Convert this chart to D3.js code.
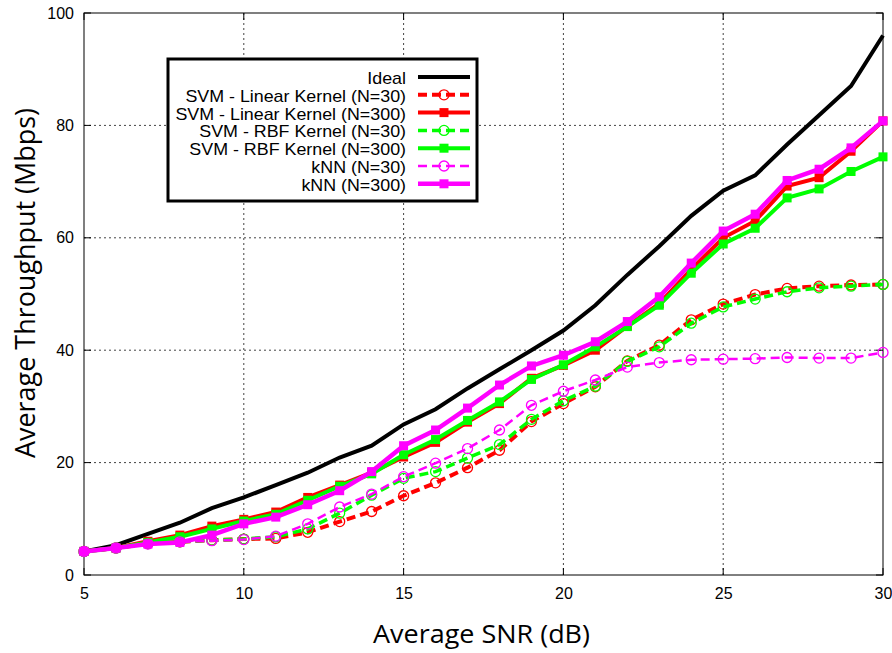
<!DOCTYPE html>
<html><head><meta charset="utf-8">
<script src="https://cdn.jsdelivr.net/npm/d3@7"></script>
<style>body{margin:0;background:#fff}</style>
</head><body><svg id="c" width="892" height="653"></svg>
<script>
const snr = [5,6,7,8,9,10,11,12,13,14,15,16,17,18,19,20,21,22,23,24,25,26,27,28,29,30];
const ideal     = [4.2,5.3,7.3,9.3,11.9,13.8,16.0,18.2,20.9,23.0,26.8,29.5,33.2,36.6,40.0,43.5,48.0,53.4,58.5,63.9,68.4,71.1,76.6,81.8,87.0,96.0];
const linear30  = [4.2,4.8,5.6,5.9,6.2,6.4,6.5,7.6,9.5,11.3,14.1,16.4,19.1,22.2,27.3,30.5,33.5,38.1,40.9,45.4,48.2,49.9,51.0,51.4,51.6,51.7];
const linear300 = [4.2,4.8,6.0,7.1,8.7,9.9,11.2,13.8,16.0,18.2,21.0,23.6,27.2,30.5,35.0,37.3,40.0,44.3,48.3,54.4,60.0,63.0,69.2,70.7,75.4,80.8];
const rbf30     = [4.2,4.8,5.6,5.9,6.2,6.4,6.8,8.2,11.0,14.2,17.2,18.4,20.8,23.2,27.7,31.0,33.6,38.0,40.6,44.8,47.7,49.1,50.4,51.1,51.4,51.7];
const rbf300    = [4.2,4.8,5.8,6.8,8.2,9.6,10.8,13.3,15.8,18.0,21.4,24.1,27.5,30.8,34.8,37.4,40.6,44.2,48.0,53.7,58.9,61.7,67.1,68.7,71.8,74.4];
const knn30     = [4.2,4.8,5.5,5.9,6.1,6.3,6.9,9.1,12.1,14.4,17.5,19.9,22.5,25.8,30.2,32.7,34.7,37.0,37.8,38.3,38.4,38.5,38.7,38.6,38.6,39.6];
const knn300    = [4.2,4.8,5.5,5.8,7.1,9.1,10.3,12.5,15.0,18.4,23.0,25.8,29.7,33.8,37.2,39.1,41.5,45.1,49.5,55.5,61.2,64.2,70.2,72.2,76.0,80.8];
const xTicks = [5,10,15,20,25,30];
const yTicks = [0,20,40,60,80,100];

const series = [
  {name:"Ideal", values:ideal, color:"#000", width:4, dash:null, marker:null},
  {name:"SVM - Linear Kernel (N=30)", values:linear30, color:"#ff0000", width:4, dash:"9,5", marker:"circle"},
  {name:"SVM - Linear Kernel (N=300)", values:linear300, color:"#ff0000", width:4, dash:null, marker:"square"},
  {name:"SVM - RBF Kernel (N=30)", values:rbf30, color:"#00ff00", width:3.5, dash:"9,5", marker:"circle"},
  {name:"SVM - RBF Kernel (N=300)", values:rbf300, color:"#00ff00", width:4, dash:null, marker:"square"},
  {name:"kNN (N=30)", values:knn30, color:"#ff00ff", width:2.5, dash:"9,5", marker:"circle"},
  {name:"kNN (N=300)", values:knn300, color:"#ff00ff", width:4.5, dash:null, marker:"square"}
];

const svg = d3.select("#c");
const L=84, R=883, T=13, B=575;
const x = d3.scaleLinear().domain([5,30]).range([L,R]);
const y = d3.scaleLinear().domain([0,100]).range([B,T]);
const tickFont = "'Liberation Sans', Arial, sans-serif";

// grid
const g = svg.append("g");
g.selectAll(".gx").data(xTicks.slice(1,-1)).enter().append("line")
  .attr("x1",d=>x(d)).attr("x2",d=>x(d)).attr("y1",T).attr("y2",B)
  .attr("stroke","#444").attr("stroke-width",1).attr("stroke-dasharray","2,3");
g.selectAll(".gy").data(yTicks.slice(1,-1)).enter().append("line")
  .attr("y1",d=>y(d)).attr("y2",d=>y(d)).attr("x1",L).attr("x2",R)
  .attr("stroke","#444").attr("stroke-width",1).attr("stroke-dasharray","2,3");

// axes via d3
const xAxis = d3.axisBottom(x).tickValues(xTicks).tickSize(0).tickPadding(13);
const yAxis = d3.axisLeft(y).tickValues(yTicks).tickSize(0).tickPadding(10);
const ax = svg.append("g").attr("transform",`translate(0,${B})`).call(xAxis);
const ay = svg.append("g").attr("transform",`translate(${L},0)`).call(yAxis);
[ax,ay].forEach(a=>{a.select(".domain").remove();
  a.selectAll("text").attr("font-family",tickFont).attr("font-size",16).attr("fill","#000");});

// inward ticks
xTicks.forEach(t=>{
  svg.append("line").attr("x1",x(t)).attr("x2",x(t)).attr("y1",B).attr("y2",B-7).attr("stroke","#000");
  svg.append("line").attr("x1",x(t)).attr("x2",x(t)).attr("y1",T).attr("y2",T+7).attr("stroke","#000");
});
yTicks.forEach(t=>{
  svg.append("line").attr("y1",y(t)).attr("y2",y(t)).attr("x1",L).attr("x2",L+7).attr("stroke","#000");
  svg.append("line").attr("y1",y(t)).attr("y2",y(t)).attr("x1",R).attr("x2",R-7).attr("stroke","#000");
});

// frame
svg.append("rect").attr("x",L).attr("y",T).attr("width",R-L).attr("height",B-T)
  .attr("fill","none").attr("stroke","#000").attr("stroke-width",1);

// series
const line = d3.line().x((d,i)=>x(snr[i])).y(d=>y(d));
series.forEach(s=>{
  const gs = svg.append("g");
  gs.append("path").datum(s.values).attr("d",line).attr("fill","none")
    .attr("stroke",s.color).attr("stroke-width",s.width)
    .attr("stroke-dasharray",s.dash).attr("stroke-linejoin","miter");
  if(s.marker==="circle"){
    gs.selectAll("circle").data(s.values).enter().append("circle")
      .attr("cx",(d,i)=>x(snr[i])).attr("cy",d=>y(d)).attr("r",5)
      .attr("fill","none").attr("stroke",s.color).attr("stroke-width",1.3);
  } else if(s.marker==="square"){
    gs.selectAll("rect").data(s.values).enter().append("rect")
      .attr("x",(d,i)=>x(snr[i])-4.5).attr("y",d=>y(d)-4.5).attr("width",9).attr("height",9)
      .attr("fill",s.color);
  }
});

// legend
const lg = svg.append("g");
lg.append("rect").attr("x",168).attr("y",59).attr("width",309).attr("height",142)
  .attr("fill","#fff").attr("stroke","#000").attr("stroke-width",3);
series.forEach((s,i)=>{
  const yy = 77 + i*17.8;
  lg.append("text").attr("transform",`translate(406,${yy+7}) scale(1.16,1.05)`).attr("text-anchor","end")
    .attr("font-family",tickFont).attr("font-size",15.4).attr("fill","#000").text(s.name);
  lg.append("line").attr("x1",418).attr("x2",470).attr("y1",yy).attr("y2",yy)
    .attr("stroke",s.color).attr("stroke-width",s.width).attr("stroke-dasharray",s.dash);
  if(s.marker==="circle") lg.append("circle").attr("cx",444).attr("cy",yy).attr("r",5)
    .attr("fill","none").attr("stroke",s.color).attr("stroke-width",1.3);
  if(s.marker==="square") lg.append("rect").attr("x",439.5).attr("y",yy-4.5).attr("width",9).attr("height",9).attr("fill",s.color);
});

// axis titles
const titleFont = "'Open Sans', 'Noto Sans', sans-serif";
svg.append("text").attr("x",481.5).attr("y",643).attr("text-anchor","middle")
  .attr("font-family",titleFont).attr("font-size",25).attr("textLength",217).attr("lengthAdjust","spacingAndGlyphs")
  .attr("fill","#000").text("Average SNR (dB)");
svg.append("text").attr("transform",`translate(35,283) rotate(-90)`).attr("text-anchor","middle")
  .attr("font-family",titleFont).attr("font-size",27).attr("textLength",350).attr("lengthAdjust","spacingAndGlyphs")
  .attr("fill","#000").text("Average Throughput (Mbps)");
</script></body></html>
